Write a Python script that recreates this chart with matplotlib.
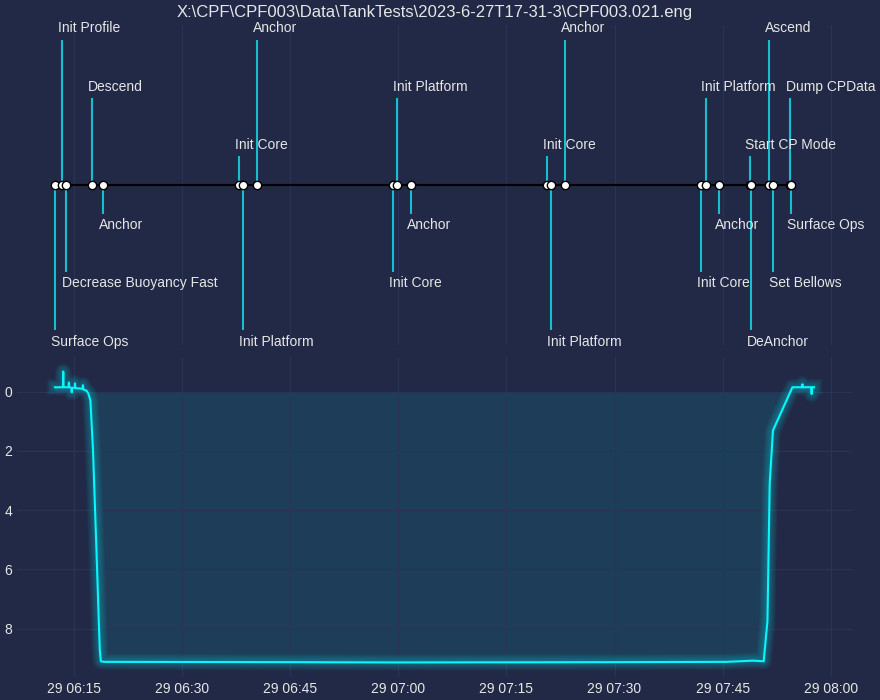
import numpy as np
import pandas as pd
import matplotlib
matplotlib.use("Agg")
import matplotlib.pyplot as plt
import matplotlib.dates as mdates

day = "2023-06-29 "
title = r"X:\CPF\CPF003\Data\TankTests\2023-6-27T17-31-3\CPF003.021.eng"

event_names = ["Surface Ops", "Init Profile", "Decrease Buoyancy Fast", "Descend", "Anchor",
               "Init Core", "Init Platform", "Anchor",
               "Init Core", "Init Platform", "Anchor",
               "Init Core", "Init Platform", "Anchor",
               "Init Core", "Init Platform", "Anchor",
               "Start CP Mode", "DeAnchor", "Ascend", "Set Bellows", "Dump CPData", "Surface Ops"]
event_times = ["06:12:22", "06:13:20", "06:13:56", "06:17:28", "06:19:03",
               "06:37:52", "06:38:26", "06:40:22",
               "06:59:16", "06:59:49", "07:01:49",
               "07:20:39", "07:21:15", "07:23:11",
               "07:42:03", "07:42:38", "07:44:27",
               "07:48:45", "07:48:53", "07:51:26", "07:51:59", "07:54:21", "07:54:32"]

depth_times = ["06:12:22", "06:13:28", "06:13:31", "06:13:34", "06:14:15", "06:14:18", "06:14:21",
               "06:14:39", "06:14:42", "06:14:45", "06:15:06", "06:15:09", "06:15:12",
               "06:16:12", "06:16:15", "06:16:18", "06:16:46", "06:17:00", "06:17:17",
               "06:17:39", "06:18:07", "06:18:35", "06:18:44", "06:19:10",
               "06:45:00", "07:00:00", "07:30:00", "07:45:30", "07:49:10", "07:50:42",
               "07:51:13", "07:51:32", "07:51:59", "07:54:41",
               "07:56:02", "07:56:04", "07:56:06", "07:57:18", "07:57:21", "07:57:24", "07:57:41"]
depth_values = [-0.15, -0.15, -0.68, -0.15, -0.15, -0.31, -0.15,
                -0.13, 0.02, -0.13, -0.13, -0.28, -0.12,
                -0.10, -0.22, -0.08, -0.03, 0.06, 0.30,
                2.0, 5.3, 8.7, 9.10, 9.12,
                9.13, 9.14, 9.13, 9.12, 9.08, 9.10,
                7.75, 3.1, 1.31, -0.15,
                -0.15, -0.25, -0.15, -0.15, 0.08, -0.15, -0.15]

bg = "#212946"
plt.rcParams.update({
    "axes.facecolor": bg, "figure.facecolor": bg, "savefig.facecolor": bg,
    "axes.edgecolor": bg, "text.color": "0.9", "axes.labelcolor": "0.9",
    "xtick.color": "0.9", "ytick.color": "0.9", "grid.color": "#2A3459",
    "axes.grid": True, "xtick.major.size": 0, "ytick.major.size": 0,
    "font.size": 10,
})
plt.rcParams["font.family"] = ["Liberation Sans", "DejaVu Sans"]

ev_t = pd.to_datetime([day + t for t in event_times])
d_t = pd.to_datetime([day + t for t in depth_times])
depth = np.array(depth_values)
levels = np.tile([-5, 5, -3, 3, -1, 1], int(np.ceil(len(ev_t) / 6)))[:len(ev_t)]

fig, (ax1, ax2) = plt.subplots(2, 1, sharex=True, figsize=(8.8, 7), dpi=100)
fig.subplots_adjust(left=17 / 880, right=852 / 880, top=1 - 25 / 700,
                    bottom=1 - 677 / 700, hspace=0.0375)

# event timeline
ax1.set_title(title, fontsize=12)
ax1.vlines(ev_t, 0, levels, color="tab:cyan", lw=1.5)
ax1.plot(ev_t, np.zeros(len(ev_t)), "-o", color="k", markerfacecolor="w")
for t, lv, name in zip(ev_t, levels, event_names):
    ax1.annotate(name, xy=(t, lv), xytext=(-3, np.sign(lv) * 3),
                 textcoords="offset points", ha="left",
                 va="bottom" if lv > 0 else "top")
ax1.yaxis.set_visible(False)
for s in ax1.spines.values():
    s.set_visible(False)

# depth with glow
c = "#08F7FE"
ax2.plot(d_t, depth, color=c, lw=1.5, zorder=3)
for n in range(1, 11):
    ax2.plot(d_t, depth, color=c, lw=1.5 + 1.05 * n, alpha=0.03, zorder=2)
ax2.fill_between(d_t, depth, 0, color=c, alpha=0.1, lw=0)
ax2.invert_yaxis()
ax2.xaxis.set_major_locator(mdates.MinuteLocator(byminute=[0, 15, 30, 45]))
ax2.xaxis.set_major_formatter(mdates.DateFormatter("%d %H:%M"))
for s in ax2.spines.values():
    s.set_visible(False)

fig.savefig("out.png", dpi=100)
